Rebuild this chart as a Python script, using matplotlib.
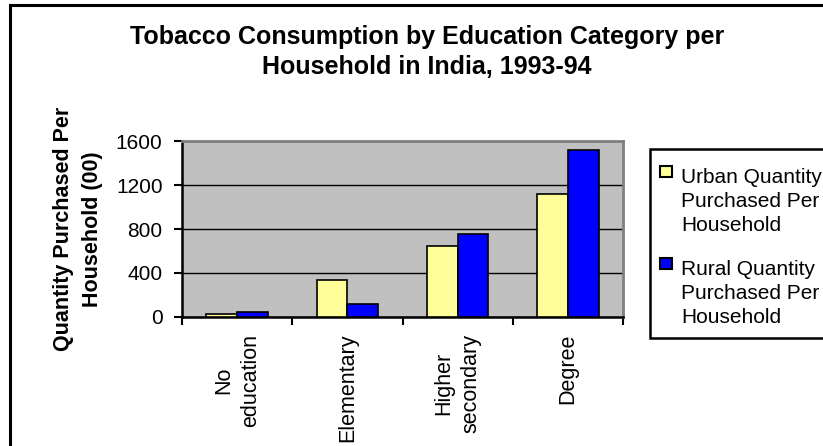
import matplotlib

matplotlib.use("Agg")
import matplotlib.pyplot as plt
from matplotlib.patches import Rectangle

plt.rcParams["font.family"] = ["Liberation Sans", "DejaVu Sans"]

categories = ["No\neducation", "Elementary", "Higher\nsecondary", "Degree"]
urban_qty = [30, 340, 648, 1121]
rural_qty = [48, 121, 758, 1521]
series_labels = [
    "Urban Quantity\nPurchased Per\nHousehold",
    "Rural Quantity\nPurchased Per\nHousehold",
]
series_colors = ["#FFFF99", "#0000FF"]
y_ticks = [0, 400, 800, 1200, 1600]

W, H = 823, 446
fig = plt.figure(figsize=(W / 100, H / 100), dpi=100)
fig.patch.set_facecolor("white")


def px(x, y):
    # pixel position (from top-left) -> figure fraction
    return x / W, 1 - y / H


# chart-area border (right/bottom sides fall outside the canvas)
fig.add_artist(Rectangle((10 / W, -0.05), 1.2, 1 - 5 / H + 0.05,
                         transform=fig.transFigure, fill=False,
                         edgecolor="black", linewidth=2.2))

ax = fig.add_axes([182 / W, 1 - 317 / H, (623 - 182) / W, (317 - 141) / H])
ax.set_facecolor("#C0C0C0")

x = list(range(len(categories)))
bw = 0.28
ax.bar([i - bw / 2 for i in x], urban_qty, width=bw, color=series_colors[0],
       edgecolor="black", linewidth=1.2, zorder=3)
ax.bar([i + bw / 2 for i in x], rural_qty, width=bw, color=series_colors[1],
       edgecolor="black", linewidth=1.2, zorder=3)

ax.set_xlim(-0.5, len(categories) - 0.5)
ax.set_ylim(0, 1600)
ax.set_yticks(y_ticks)
ax.set_yticklabels([str(v) for v in y_ticks], fontsize=15)
ax.yaxis.grid(True, color="black", linewidth=1.0, zorder=1)
ax.set_axisbelow(True)

# boundary ticks between categories, labels centred on each group
ax.set_xticks([i - 0.5 for i in range(len(categories) + 1)])
ax.set_xticklabels([])
ax.set_xticks(x, minor=True)
ax.set_xticklabels(categories, minor=True, rotation=90, fontsize=15.5,
                   ha="center", va="top", multialignment="center",
                   linespacing=1.4)
ax.tick_params(axis="x", which="major", direction="out", length=6, width=1.5)
ax.tick_params(axis="x", which="minor", length=0, pad=12)
ax.tick_params(axis="y", direction="out", length=6, width=1.5, pad=8)

for side in ("left", "bottom"):
    ax.spines[side].set_color("black")
    ax.spines[side].set_linewidth(1.8)
for side in ("top", "right"):
    ax.spines[side].set_color("#808080")
    ax.spines[side].set_linewidth(2.0)

ax.set_ylabel("Quantity Purchased Per\nHousehold (00)", fontsize=15.5,
              fontweight="bold", labelpad=9, linespacing=1.55)

fig.text(*px(427, 52),
         "Tobacco Consumption by Education Category per\nHousehold in India, 1993-94",
         ha="center", va="center", fontsize=18, fontweight="bold",
         linespacing=1.35)

# legend box, swatch beside the first line of each entry
fig.add_artist(Rectangle(px(650, 338), 0.5, (338 - 149) / H,
                         transform=fig.transFigure, fill=True,
                         facecolor="white", edgecolor="black", linewidth=1.8))
for k, (label, color) in enumerate(zip(series_labels, series_colors)):
    top = 168 + k * 92
    fig.add_artist(Rectangle(px(660, top + 9), 12 / W, 11 / H,
                             transform=fig.transFigure, facecolor=color,
                             edgecolor="black", linewidth=1.5))
    fig.text(*px(681, top), label, ha="left", va="top", fontsize=15,
             linespacing=1.32)

fig.savefig("out.png", dpi=100)
